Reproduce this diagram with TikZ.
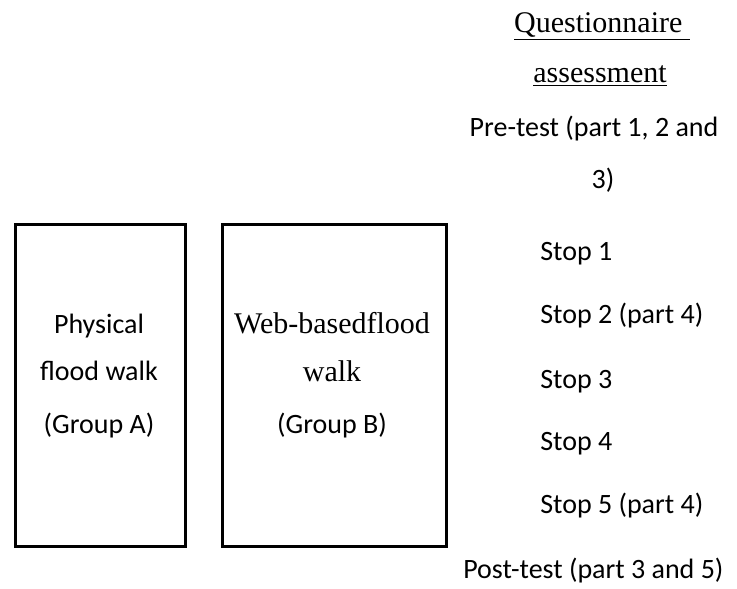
\documentclass[tikz,border=0pt]{standalone}
\usepackage{fontspec}
\setmainfont{Liberation Serif}
\newfontfamily\calibri{Carlito}
\begin{document}
\begin{tikzpicture}[x=0.75pt,y=-0.75pt,
  groupbox/.style={draw, line width=2.2pt, inner sep=0pt, anchor=north west, minimum height=241.5pt},
  ctxt/.style={inner sep=0pt, anchor=base, font=\calibri\fontsize{21}{25}\selectfont},
  ltxt/.style={inner sep=0pt, anchor=base west, font=\calibri\fontsize{21}{25}\selectfont},
  ttxt/.style={inner sep=0pt, anchor=base, font=\fontsize{22.5}{27}\selectfont}]
\useasboundingbox (0,0) rectangle (737,588);
% boxes
\node[groupbox, minimum width=127.5pt] (boxA) at (14,223) {};
\node[groupbox, minimum width=168pt] (boxB) at (221,223) {};
% box A text
\node[ctxt] (a1) at (99,333) {Physical};
\node[ctxt] (a2) at (99,380) {flood walk};
\node[ctxt] (a3) at (99,433) {(Group A)};
% box B text
\node[ttxt] (b1) at (332,333) {Web-basedflood};
\node[ttxt] (b2) at (332,381) {walk};
\node[ctxt] (b3) at (332,433) {(Group B)};
% questionnaire column
\node[ttxt] (q1) at (602,33) {\underline{Questionnaire\ }};
\node[ttxt] (q2) at (600,83) {\underline{assessment}};
\node[ctxt] (pre1) at (594,137) {Pre-test (part 1, 2 and};
\node[ctxt] (pre2) at (603,188) {3)};
\node[ltxt] (s1) at (540,260) {Stop 1};
\node[ltxt] (s2) at (540,323) {Stop 2 (part 4)};
\node[ltxt] (s3) at (540,388) {Stop 3};
\node[ltxt] (s4) at (540,450) {Stop 4};
\node[ltxt] (s5) at (540,513) {Stop 5 (part 4)};
\node[ltxt] (post) at (463,578) {Post-test (part 3 and 5)};
\end{tikzpicture}
\end{document}
